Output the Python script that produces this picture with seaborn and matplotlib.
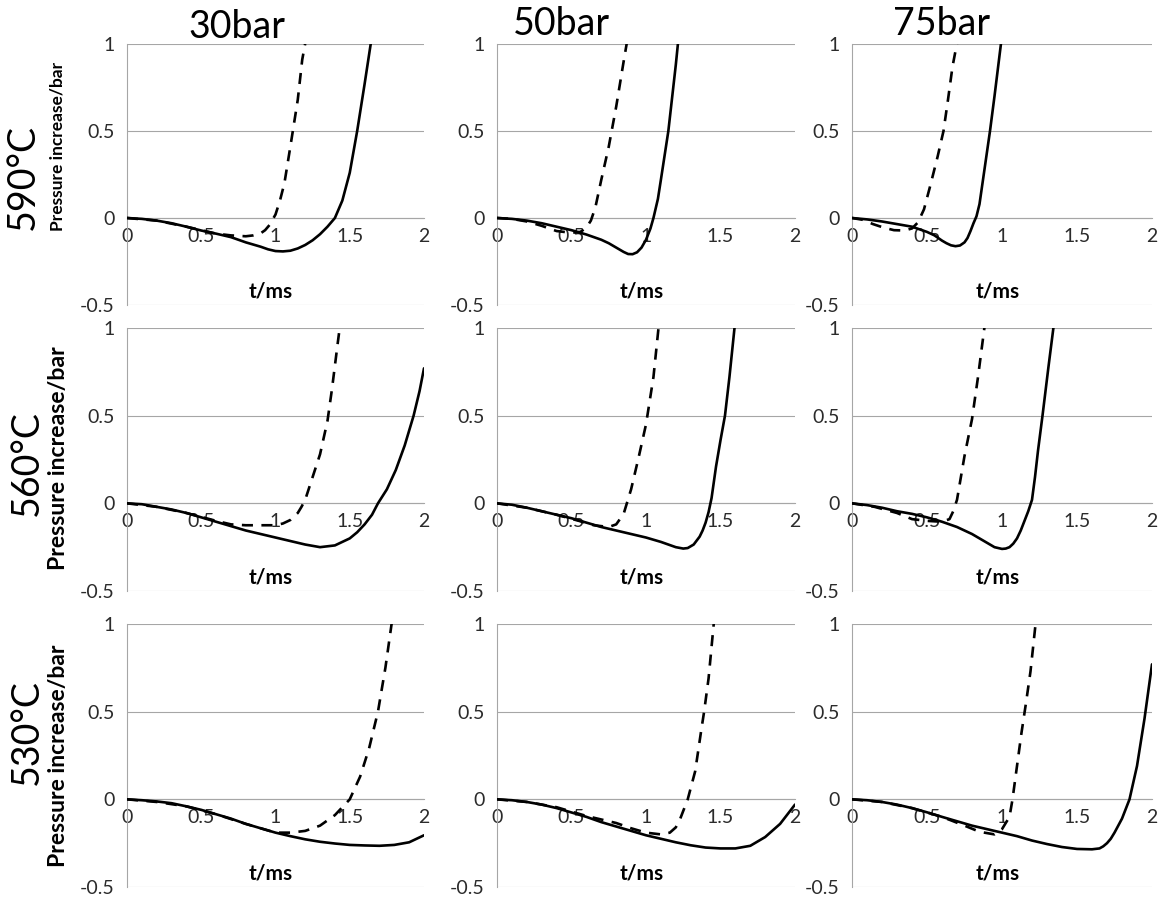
import matplotlib
matplotlib.use("Agg")
import matplotlib.pyplot as plt
import seaborn as sns

sns.set_theme(style="white")
plt.rcParams["font.family"] = ["Lato", "DejaVu Sans"]

# ---------------- data ----------------
pressures = ["30bar", "50bar", "75bar"]
temperatures = ["590°C", "560°C", "530°C"]
x_ticks = [0, 0.5, 1, 1.5, 2]
x_tick_labels = ["0", "0.5", "1", "1.5", "2"]
y_ticks = [-0.5, 0, 0.5, 1]
y_tick_labels = ["-0.5", "0", "0.5", "1"]
x_label = "t/ms"
y_label = "Pressure increase/bar"

# 590°C, 30 bar
t_590_30_solid = [0, 0.1, 0.2, 0.3, 0.4, 0.5, 0.6, 0.7, 0.8, 0.9, 0.95, 1.0, 1.05, 1.1, 1.15, 1.2, 1.25, 1.3, 1.35, 1.4, 1.45, 1.5, 1.55, 1.6, 1.65]
p_590_30_solid = [0, -0.005, -0.015, -0.03, -0.05, -0.072, -0.09, -0.11, -0.14, -0.165, -0.18, -0.19, -0.192, -0.188, -0.175, -0.155, -0.128, -0.093, -0.05, 0.0, 0.1, 0.26, 0.5, 0.77, 1.05]
t_590_30_dash = [0, 0.2, 0.4, 0.5, 0.6, 0.7, 0.8, 0.85, 0.9, 0.93, 0.96, 1.0, 1.03, 1.06, 1.1, 1.15, 1.18, 1.21]
p_590_30_dash = [0, -0.015, -0.05, -0.07, -0.09, -0.1, -0.105, -0.1, -0.088, -0.07, -0.04, 0.02, 0.1, 0.2, 0.41, 0.68, 0.91, 1.05]

# 590°C, 50 bar
t_590_50_solid = [0, 0.1, 0.2, 0.3, 0.4, 0.5, 0.6, 0.7, 0.75, 0.8, 0.85, 0.88, 0.91, 0.94, 0.97, 1.0, 1.03, 1.05, 1.08, 1.1, 1.15, 1.2, 1.22]
p_590_50_solid = [0, -0.005, -0.015, -0.03, -0.05, -0.07, -0.095, -0.125, -0.145, -0.17, -0.195, -0.207, -0.208, -0.197, -0.17, -0.125, -0.06, 0.0, 0.11, 0.22, 0.5, 0.88, 1.05]
t_590_50_dash = [0, 0.1, 0.2, 0.3, 0.4, 0.5, 0.56, 0.6, 0.63, 0.66, 0.7, 0.75, 0.8, 0.85, 0.88]
p_590_50_dash = [0, -0.005, -0.02, -0.045, -0.075, -0.085, -0.08, -0.055, -0.015, 0.06, 0.22, 0.41, 0.64, 0.9, 1.05]

# 590°C, 75 bar
t_590_75_solid = [0, 0.1, 0.2, 0.3, 0.4, 0.5, 0.55, 0.6, 0.63, 0.66, 0.69, 0.72, 0.75, 0.77, 0.79, 0.81, 0.83, 0.85, 0.88, 0.9, 0.92, 0.95, 1.0]
p_590_75_solid = [0, -0.008, -0.02, -0.035, -0.05, -0.08, -0.1, -0.13, -0.145, -0.157, -0.162, -0.158, -0.14, -0.115, -0.075, -0.03, 0.01, 0.08, 0.26, 0.38, 0.5, 0.7, 1.05]
t_590_75_dash = [0, 0.07, 0.14, 0.21, 0.28, 0.35, 0.4, 0.44, 0.48, 0.52, 0.57, 0.61, 0.64, 0.67, 0.71]
p_590_75_dash = [0, -0.01, -0.035, -0.055, -0.07, -0.072, -0.06, -0.025, 0.05, 0.18, 0.35, 0.5, 0.68, 0.87, 1.05]

# 560°C, 30 bar
t_560_30_solid = [0, 0.1, 0.2, 0.3, 0.4, 0.5, 0.6, 0.7, 0.8, 0.9, 1.0, 1.1, 1.2, 1.3, 1.4, 1.5, 1.55, 1.6, 1.65, 1.69, 1.75, 1.81, 1.87, 1.93, 1.97, 2.0]
p_560_30_solid = [0, -0.005, -0.02, -0.035, -0.055, -0.08, -0.105, -0.13, -0.155, -0.175, -0.195, -0.215, -0.235, -0.25, -0.24, -0.2, -0.165, -0.12, -0.065, 0.0, 0.08, 0.19, 0.33, 0.5, 0.64, 0.77]
t_560_30_dash = [0, 0.2, 0.4, 0.6, 0.7, 0.8, 0.9, 1.0, 1.05, 1.1, 1.15, 1.175, 1.2, 1.25, 1.3, 1.35, 1.38, 1.42, 1.44]
p_560_30_dash = [0, -0.02, -0.055, -0.1, -0.12, -0.125, -0.125, -0.125, -0.115, -0.095, -0.055, -0.02, 0.02, 0.15, 0.28, 0.47, 0.65, 0.92, 1.05]

# 560°C, 50 bar
t_560_50_solid = [0, 0.1, 0.2, 0.3, 0.4, 0.5, 0.6, 0.7, 0.8, 0.9, 1.0, 1.1, 1.2, 1.25, 1.28, 1.32, 1.36, 1.38, 1.4, 1.42, 1.44, 1.47, 1.5, 1.53, 1.56, 1.6]
p_560_50_solid = [0, -0.008, -0.025, -0.045, -0.065, -0.085, -0.11, -0.135, -0.155, -0.175, -0.195, -0.22, -0.25, -0.258, -0.255, -0.235, -0.19, -0.155, -0.11, -0.05, 0.03, 0.21, 0.36, 0.5, 0.72, 1.05]
t_560_50_dash = [0, 0.2, 0.4, 0.55, 0.65, 0.75, 0.8, 0.85, 0.9, 0.95, 1.0, 1.05, 1.09]
p_560_50_dash = [0, -0.025, -0.065, -0.1, -0.125, -0.135, -0.12, -0.06, 0.08, 0.26, 0.45, 0.72, 1.05]

# 560°C, 75 bar
t_560_75_solid = [0, 0.1, 0.2, 0.3, 0.4, 0.5, 0.6, 0.7, 0.8, 0.9, 0.95, 1.0, 1.025, 1.05, 1.075, 1.1, 1.125, 1.15, 1.175, 1.2, 1.22, 1.24, 1.27, 1.31, 1.35]
p_560_75_solid = [0, -0.01, -0.025, -0.045, -0.06, -0.08, -0.105, -0.135, -0.175, -0.225, -0.25, -0.26, -0.258, -0.25, -0.23, -0.2, -0.155, -0.1, -0.045, 0.02, 0.15, 0.3, 0.5, 0.78, 1.05]
t_560_75_dash = [0, 0.15, 0.3, 0.4, 0.5, 0.6, 0.65, 0.675, 0.7, 0.75, 0.8, 0.84, 0.89]
p_560_75_dash = [0, -0.02, -0.055, -0.09, -0.1, -0.105, -0.09, -0.045, 0.02, 0.27, 0.48, 0.72, 1.05]

# 530°C, 30 bar
t_530_30_solid = [0, 0.1, 0.2, 0.3, 0.4, 0.5, 0.6, 0.7, 0.8, 0.9, 1.0, 1.1, 1.2, 1.3, 1.4, 1.5, 1.6, 1.7, 1.8, 1.9, 2.0]
p_530_30_solid = [0, -0.005, -0.012, -0.022, -0.04, -0.06, -0.085, -0.11, -0.14, -0.165, -0.19, -0.21, -0.228, -0.242, -0.252, -0.26, -0.263, -0.265, -0.26, -0.245, -0.205]
t_530_30_dash = [0, 0.2, 0.4, 0.6, 0.8, 1.0, 1.1, 1.2, 1.3, 1.4, 1.5, 1.57, 1.63, 1.69, 1.74, 1.79]
p_530_30_dash = [0, -0.015, -0.04, -0.085, -0.14, -0.19, -0.19, -0.18, -0.15, -0.09, 0.0, 0.13, 0.29, 0.5, 0.75, 1.05]

# 530°C, 50 bar
t_530_50_solid = [0, 0.1, 0.2, 0.3, 0.4, 0.5, 0.6, 0.7, 0.8, 0.9, 1.0, 1.1, 1.2, 1.3, 1.4, 1.5, 1.6, 1.7, 1.8, 1.9, 2.0]
p_530_50_solid = [0, -0.005, -0.015, -0.03, -0.05, -0.075, -0.1, -0.13, -0.155, -0.18, -0.205, -0.225, -0.245, -0.262, -0.275, -0.28, -0.28, -0.265, -0.215, -0.14, -0.03]
t_530_50_dash = [0, 0.2, 0.4, 0.6, 0.8, 0.9, 1.0, 1.1, 1.16, 1.2, 1.23, 1.28, 1.33, 1.37, 1.39, 1.42, 1.46]
p_530_50_dash = [0, -0.015, -0.045, -0.095, -0.135, -0.165, -0.19, -0.2, -0.19, -0.16, -0.11, 0.0, 0.16, 0.39, 0.5, 0.69, 1.05]

# 530°C, 75 bar
t_530_75_solid = [0, 0.1, 0.2, 0.3, 0.4, 0.5, 0.6, 0.7, 0.8, 0.9, 1.0, 1.1, 1.2, 1.3, 1.4, 1.5, 1.6, 1.65, 1.675, 1.7, 1.725, 1.75, 1.8, 1.85, 1.9, 1.95, 2.0]
p_530_75_solid = [0, -0.005, -0.015, -0.03, -0.05, -0.074, -0.1, -0.125, -0.15, -0.17, -0.19, -0.21, -0.235, -0.255, -0.272, -0.283, -0.285, -0.28, -0.268, -0.25, -0.225, -0.19, -0.11, 0.0, 0.19, 0.46, 0.77]
t_530_75_dash = [0, 0.2, 0.4, 0.6, 0.75, 0.85, 0.95, 1.0, 1.05, 1.07, 1.1, 1.13, 1.16, 1.19, 1.23]
p_530_75_dash = [0, -0.015, -0.05, -0.1, -0.15, -0.185, -0.2, -0.17, -0.1, 0.0, 0.19, 0.38, 0.55, 0.73, 1.05]

panels = [
    [(t_590_30_solid, p_590_30_solid, t_590_30_dash, p_590_30_dash),
     (t_590_50_solid, p_590_50_solid, t_590_50_dash, p_590_50_dash),
     (t_590_75_solid, p_590_75_solid, t_590_75_dash, p_590_75_dash)],
    [(t_560_30_solid, p_560_30_solid, t_560_30_dash, p_560_30_dash),
     (t_560_50_solid, p_560_50_solid, t_560_50_dash, p_560_50_dash),
     (t_560_75_solid, p_560_75_solid, t_560_75_dash, p_560_75_dash)],
    [(t_530_30_solid, p_530_30_solid, t_530_30_dash, p_530_30_dash),
     (t_530_50_solid, p_530_50_solid, t_530_50_dash, p_530_50_dash),
     (t_530_75_solid, p_530_75_solid, t_530_75_dash, p_530_75_dash)],
]

# ---------------- layout (pixels) ----------------
W, H = 1161, 899
fig = plt.figure(figsize=(W / 100, H / 100), dpi=100)
fig.patch.set_facecolor("white")

col_left = [127, 497, 852]
col_right = [424, 795, 1152]
row_top = [44, 328, 624]
row_bot = [305, 591, 887]

grid_color = "#a6a6a6"
text_color = "#2b2b2b"

for r in range(3):
    for c in range(3):
        l, rr = col_left[c], col_right[c]
        t, b = row_top[r], row_bot[r]
        ax = fig.add_axes([l / W, 1 - b / H, (rr - l) / W, (b - t) / H])
        ax.set_facecolor("none")
        ts, ps, td, pdash = panels[r][c]
        sns.lineplot(x=ts, y=ps, ax=ax, color="black", linewidth=1.9,
                     sort=False, estimator=None, zorder=3)
        sns.lineplot(x=td, y=pdash, ax=ax, color="black", linewidth=1.9,
                     sort=False, estimator=None, zorder=3)
        ax.lines[-1].set_linestyle((0, (4.2, 3.2)))
        for ln in ax.lines:
            ln.set_solid_joinstyle("round")
            ln.set_dash_joinstyle("round")
        ax.set_xlim(0, 2)
        ax.set_ylim(-0.5, 1)
        ax.set_xticks(x_ticks)
        ax.set_xticklabels(x_tick_labels)
        ax.set_yticks(y_ticks)
        ax.set_yticklabels(y_tick_labels)
        for s in ["top", "right"]:
            ax.spines[s].set_visible(False)
        ax.spines["bottom"].set_position(("data", 0))
        ax.spines["bottom"].set_color(grid_color)
        ax.spines["left"].set_color(grid_color)
        ax.spines["bottom"].set_linewidth(0.8)
        ax.spines["left"].set_linewidth(0.8)
        ax.set_axisbelow(True)
        ax.yaxis.grid(True, color=grid_color, linewidth=0.8)
        ax.xaxis.grid(False)
        ax.tick_params(axis="x", direction="in", length=4, width=0.8,
                       color=grid_color, pad=7, labelsize=14, labelcolor=text_color)
        ax.tick_params(axis="y", length=0, pad=9, labelsize=14, labelcolor=text_color)
        ax.set_xlabel("")
        ax.set_ylabel("")
        ax.text(0.485, 0.05, x_label, transform=ax.transAxes, ha="center",
                va="center", fontsize=15, fontweight="bold", color="black")

# column titles
title_pos = [(237, 27), (561, 24), (942, 24)]
for (x, y), s in zip(title_pos, pressures):
    fig.text(x / W, 1 - y / H, s, ha="center", va="center", fontsize=27, color="black")

# row labels
row_label_pos = [(23, 177), (27, 463), (27, 732)]
for (x, y), s in zip(row_label_pos, temperatures):
    fig.text(x / W, 1 - y / H, s, ha="center", va="center", rotation=90,
             fontsize=27, color="black")

ylab_pos = [(58, 146, 168), (58, 458, 223), (58, 756, 222)]
fig.canvas.draw()
renderer = fig.canvas.get_renderer()
for x, y, target in ylab_pos:
    txt = fig.text(x / W, 1 - y / H, y_label, ha="center", va="center",
                   rotation=90, fontsize=12, fontweight="bold", color="black")
    ext = txt.get_window_extent(renderer)
    txt.set_fontsize(12 * target / ext.height)

fig.savefig("out.png", dpi=100, facecolor="white")
